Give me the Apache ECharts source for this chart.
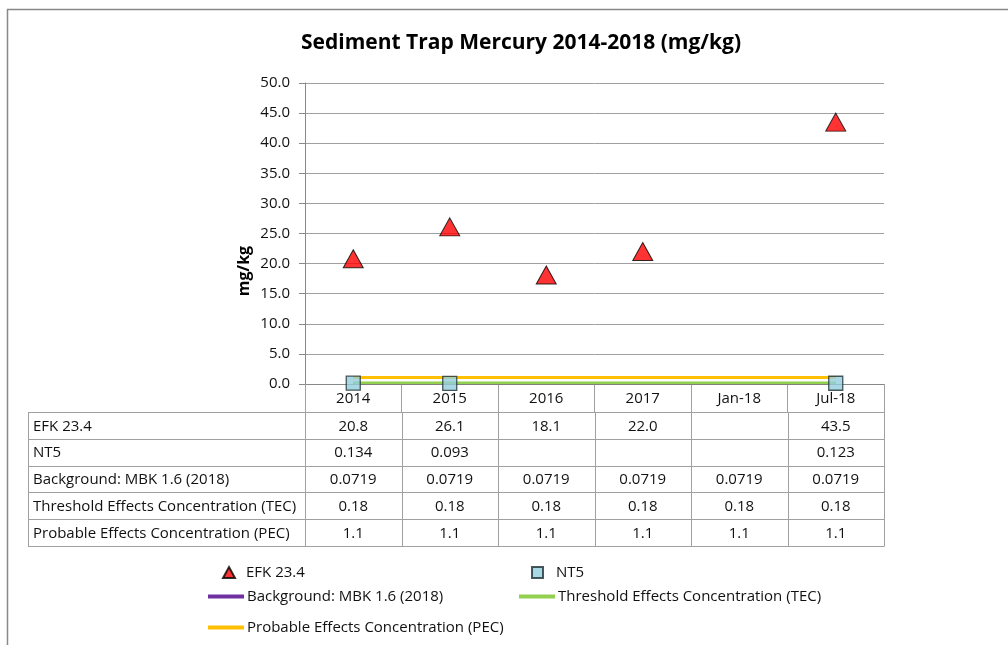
<!DOCTYPE html>
<html>
<head>
<meta charset="utf-8">
<script src="https://cdn.jsdelivr.net/npm/echarts@6/dist/echarts.min.js"></script>
<style>
  html, body { margin: 0; padding: 0; background: #fff; }
  #chart { width: 1008px; height: 645px; }
</style>
</head>
<body>
<div id="chart"></div>
<script>
// Sampling dates (category axis and table header)
const categories = ['2014', '2015', '2016', '2017', 'Jan-18', 'Jul-18'];

// Mercury concentrations, mg/kg
const efk234 = [20.8, 26.1, 18.1, 22.0, null, 43.5];
const nt5 = [0.134, 0.093, null, null, null, 0.123];
const background = [0.0719, 0.0719, 0.0719, 0.0719, 0.0719, 0.0719];
const tec = [0.18, 0.18, 0.18, 0.18, 0.18, 0.18];
const pec = [1.1, 1.1, 1.1, 1.1, 1.1, 1.1];

// Series names (legend and table row labels)
const seriesNames = [
  'EFK 23.4',
  'NT5',
  'Background: MBK 1.6 (2018)',
  'Threshold Effects Concentration (TEC)',
  'Probable Effects Concentration (PEC)'
];

// Table cell text for each series
const tableText = [
  ['20.8', '26.1', '18.1', '22.0', '', '43.5'],
  ['0.134', '0.093', '', '', '', '0.123'],
  ['0.0719', '0.0719', '0.0719', '0.0719', '0.0719', '0.0719'],
  ['0.18', '0.18', '0.18', '0.18', '0.18', '0.18'],
  ['1.1', '1.1', '1.1', '1.1', '1.1', '1.1']
];

const FONT = '"Open Sans", "Noto Sans", sans-serif';
const GRID_COLOR = '#a0a0a0';
const TEXT_COLOR = '#111';
const FS = 15;

const chart = echarts.init(document.getElementById('chart'), null, { renderer: 'canvas' });

const lineSeries = (name, data, color) => ({
  name, type: 'line', data,
  symbol: 'none', showSymbol: false,
  lineStyle: { color, width: 3 },
  itemStyle: { color },
  z: 2, silent: true, animation: false
});

const legendText = { fontFamily: FONT, fontSize: FS, color: TEXT_COLOR };

const option = {
  animation: false,
  backgroundColor: '#fff',
  textStyle: { fontFamily: FONT },
  title: {
    text: 'Sediment Trap Mercury 2014-2018 (mg/kg)',
    left: 296, top: 28,
    textStyle: { fontFamily: FONT, fontWeight: 'bold', fontSize: 21, color: '#000' }
  },
  grid: { left: 305, right: 124, top: 83, bottom: 261, containLabel: false },
  xAxis: {
    type: 'category',
    data: categories,
    boundaryGap: true,
    axisLine: { lineStyle: { color: '#888', width: 1 } },
    axisTick: { show: true, length: 28, lineStyle: { color: GRID_COLOR } },
    axisLabel: { color: TEXT_COLOR, fontSize: FS, margin: 7, fontFamily: FONT }
  },
  yAxis: {
    type: 'value',
    min: 0, max: 50, interval: 5,
    axisLine: { show: true, lineStyle: { color: '#888' } },
    axisTick: { show: true, length: 6, lineStyle: { color: '#888' } },
    axisLabel: { color: TEXT_COLOR, fontSize: FS, margin: 15, fontFamily: FONT,
      formatter: v => v.toFixed(1) },
    splitLine: { lineStyle: { color: GRID_COLOR, width: 1 } }
  },
  legend: [
    { data: [{ name: seriesNames[0], icon: 'triangle' }], left: 222, top: 565, padding: 0,
      itemWidth: 12, itemHeight: 11,
      textStyle: Object.assign({ padding: [0, 0, 0, 6] }, legendText) },
    { data: [{ name: seriesNames[1], icon: 'rect' }], left: 531, top: 565, padding: 0,
      itemWidth: 11, itemHeight: 11,
      textStyle: Object.assign({ padding: [0, 0, 0, 8] }, legendText) },
    { data: [{ name: seriesNames[2], icon: 'rect' }], left: 208, top: 589, padding: 0,
      itemWidth: 36, itemHeight: 4,
      textStyle: Object.assign({ padding: [0, 0, 0, -2] }, legendText) },
    { data: [{ name: seriesNames[3], icon: 'rect' }], left: 519, top: 589, padding: 0,
      itemWidth: 36, itemHeight: 4,
      textStyle: Object.assign({ padding: [0, 0, 0, -2] }, legendText) },
    { data: [{ name: seriesNames[4], icon: 'rect' }], left: 208, top: 620, padding: 0,
      itemWidth: 36, itemHeight: 4,
      textStyle: Object.assign({ padding: [0, 0, 0, -2] }, legendText) }
  ],
  series: [
    lineSeries(seriesNames[2], background, '#7030a0'),
    lineSeries(seriesNames[3], tec, '#92d050'),
    lineSeries(seriesNames[4], pec, '#ffc000'),
    {
      name: seriesNames[0], type: 'scatter', data: efk234,
      symbol: 'triangle', symbolSize: [20, 18],
      itemStyle: { color: '#ff0000', borderColor: '#000', borderWidth: 1 },
      z: 5
    },
    {
      name: seriesNames[1], type: 'scatter', data: nt5,
      symbol: 'rect', symbolSize: 14,
      itemStyle: { color: '#93cddd', borderColor: '#1f2f33', borderWidth: 1.3 },
      z: 6
    }
  ]
};

chart.setOption(option);

// Data table under the plot, aligned to the category bands; plus frame and axis title
function buildTable() {
  const c0 = chart.convertToPixel({ xAxisIndex: 0 }, 0);
  const c1 = chart.convertToPixel({ xAxisIndex: 0 }, 1);
  const band = c1 - c0;
  const xStart = c0 - band / 2;
  const xEnd = xStart + band * categories.length;
  const yAxisBase = chart.convertToPixel({ yAxisIndex: 0 }, 0);
  const labelLeft = 28;
  const top = yAxisBase + 28;
  const rowH = 26.8;
  const nRows = seriesNames.length;
  const bottom = top + rowH * nRows;
  const lineStyle = { stroke: GRID_COLOR, lineWidth: 1 };
  const els = [];

  // frame around the chart area
  els.push({ type: 'polyline', shape: { points: [[7.5, 645], [7.5, 9.5], [1008, 9.5]] },
    style: { stroke: '#888', lineWidth: 1.5, fill: null }, silent: true });

  // value axis title
  els.push({ type: 'text', x: 244, y: 271, rotation: Math.PI / 2, silent: true,
    style: { text: 'mg/kg', fill: '#000', font: 'bold 16px ' + FONT, align: 'center', verticalAlign: 'middle' } });

  for (let r = 0; r <= nRows; r++) {
    const y = Math.round(top + r * rowH) + 0.5;
    els.push({ type: 'line', shape: { x1: labelLeft, y1: y, x2: xEnd, y2: y }, style: lineStyle, silent: true });
  }
  const vx = [labelLeft];
  for (let i = 0; i <= categories.length; i++) vx.push(xStart + i * band);
  vx.forEach(x => {
    const xx = Math.round(x) + 0.5;
    els.push({ type: 'line', shape: { x1: xx, y1: Math.round(top), x2: xx, y2: Math.round(bottom) + 0.5 }, style: lineStyle, silent: true });
  });
  for (let r = 0; r < nRows; r++) {
    const yc = top + (r + 0.5) * rowH + 1;
    els.push({ type: 'text', x: labelLeft + 5, y: yc, silent: true,
      style: { text: seriesNames[r], fill: TEXT_COLOR, font: FS + 'px ' + FONT, verticalAlign: 'middle' } });
    for (let c = 0; c < categories.length; c++) {
      const t = tableText[r][c];
      if (!t) continue;
      els.push({ type: 'text', x: xStart + (c + 0.5) * band, y: yc, silent: true,
        style: { text: t, fill: TEXT_COLOR, font: FS + 'px ' + FONT, align: 'center', verticalAlign: 'middle' } });
    }
  }
  chart.setOption({ graphic: els });
}
buildTable();
</script>
</body>
</html>
